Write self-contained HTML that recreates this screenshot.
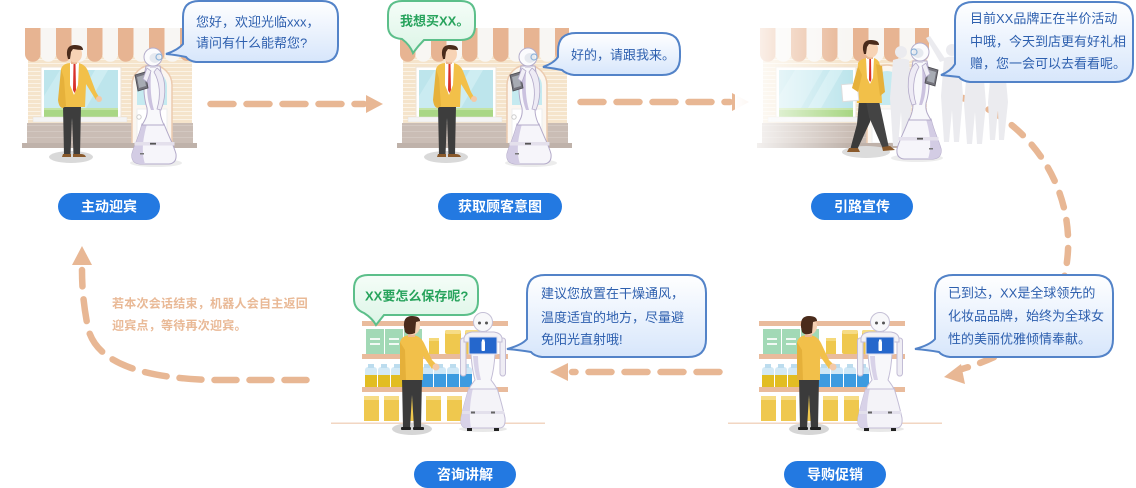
<!DOCTYPE html>
<html><head><meta charset="utf-8">
<style>
html,body{margin:0;padding:0;background:#fff;}
svg{display:block;}
text{font-family:"Liberation Sans","Noto Sans CJK SC",sans-serif;}
</style></head><body>
<svg width="1136" height="488" viewBox="0 0 1136 488" xmlns="http://www.w3.org/2000/svg">
<defs>
<pattern id="wall" width="4" height="4" patternUnits="userSpaceOnUse"><rect width="4" height="4" fill="#f5e4cb"/><rect y="3" width="4" height="1" fill="#fbf3e6"/></pattern>
<pattern id="wain" width="6" height="6" patternUnits="userSpaceOnUse"><rect width="6" height="6" fill="#cabdb5"/><rect y="5" width="6" height="1" fill="#d3c8c1"/></pattern>
<linearGradient id="bb" x1="0" y1="0" x2="0" y2="1"><stop offset="0" stop-color="#ffffff"/><stop offset="1" stop-color="#d7e6fb"/></linearGradient>
<linearGradient id="gb" x1="0" y1="0" x2="0" y2="1"><stop offset="0" stop-color="#f5fdf8"/><stop offset="1" stop-color="#dcf5e6"/></linearGradient>
<linearGradient id="fade" x1="0" y1="0" x2="1" y2="0"><stop offset="0" stop-color="#fff" stop-opacity="1"/><stop offset="0.2" stop-color="#fff" stop-opacity="0.8"/><stop offset="1" stop-color="#fff" stop-opacity="0"/></linearGradient>

<g id="store">
<rect x="28" y="52" width="164" height="73" fill="url(#wall)"/>
<rect x="41" y="67" width="80" height="52" fill="#fff" stroke="#efe3d6"/>
<rect x="44" y="70" width="74" height="45" fill="#bde5ec"/>
<path d="M60,70 L88,70 L62,115 L44,115 L44,96 Z" fill="#d0eef3" opacity="0.7"/>
<path d="M95,70 L108,70 L82,115 L69,115 Z" fill="#d6f1f5" opacity="0.7"/>
<rect x="44" y="109" width="74" height="8" fill="#a9d785"/>
<rect x="44" y="108" width="74" height="2" fill="#c3e4a6"/>
<rect x="33" y="117" width="94" height="5" fill="#f4f4f4" stroke="#e6e0da" stroke-width="0.5"/>
<rect x="27" y="123" width="166" height="21" fill="url(#wain)"/>
<path d="M132,145 V85 A20,20 0 0 1 172,85 V145 Z" fill="#fbf6f0" stroke="#eccbb0" stroke-width="1.5"/>
<path d="M137,105 V86 A15,15 0 0 1 167,86 V105 Z" fill="#c5eaf0"/>
<rect x="137" y="109" width="30" height="34" fill="#fff" stroke="#eee"/>
<circle cx="139" cy="117" r="2.2" fill="#fff" stroke="#ccc"/>
<rect x="22" y="143" width="175" height="5" fill="#bfb2aa"/>
<path d="M25,28h15.5v26a7.75,7.75 0 0 1 -15.5,0z" fill="#e7b492"/>
<path d="M40.5,28h15.5v26a7.75,7.75 0 0 1 -15.5,0z" fill="#f8f6f3"/>
<path d="M56,28h15.5v26a7.75,7.75 0 0 1 -15.5,0z" fill="#e7b492"/>
<path d="M71.5,28h15.5v26a7.75,7.75 0 0 1 -15.5,0z" fill="#f8f6f3"/>
<path d="M87,28h15.5v26a7.75,7.75 0 0 1 -15.5,0z" fill="#e7b492"/>
<path d="M102.5,28h15.5v26a7.75,7.75 0 0 1 -15.5,0z" fill="#f8f6f3"/>
<path d="M118,28h15.5v26a7.75,7.75 0 0 1 -15.5,0z" fill="#e7b492"/>
<path d="M133.5,28h15.5v26a7.75,7.75 0 0 1 -15.5,0z" fill="#f8f6f3"/>
<path d="M149,28h15.5v26a7.75,7.75 0 0 1 -15.5,0z" fill="#e7b492"/>
<path d="M164.5,28h15.5v26a7.75,7.75 0 0 1 -15.5,0z" fill="#f8f6f3"/>
<path d="M180,28h14v26a7,7 0 0 1 -14,0z" fill="#e7b492"/>
</g>

<g id="man1">
<ellipse cx="71" cy="157" rx="22" ry="6" fill="#d9d9d9"/>
<path d="M63,106 H81 L80,155 H73.5 L72,118 L70.5,155 H64 Z" fill="#3d3d3d"/>
<path d="M63,154 h8 v3 h-9 z" fill="#8a5a2c"/>
<path d="M73,154 h8 q4,0 5,3 h-13 z" fill="#8a5a2c"/>
<path d="M61,69 Q63,63 71,63 L78,63 Q85,64 88,71 L96,92 L99,97 L96,100 L86,84 L85,107 L61,107 Z" fill="#f2c049"/>
<path d="M61,69 L58,100 Q59,108 63,108 L66,106 L64,78 Z" fill="#e6b13b"/>
<path d="M70,63 L79,63 L78,85 L74,95 L70,85 Z" fill="#fff"/>
<path d="M73.5,64 L75.5,64 L76,90 L74.5,93 L73,90 Z" fill="#d8322b"/>
<circle cx="99" cy="99" r="3" fill="#f3c9a8"/>
<rect x="71" y="58" width="6" height="6" fill="#eab894"/>
<ellipse cx="75" cy="54" rx="7" ry="8.5" fill="#f7d3b5"/>
<path d="M67,55 Q66,45 75,45 Q83,45 83,50 Q78,50 73,49 L71,52 L70,59 L68,59 Z" fill="#4a2b1b"/>
</g>

<g id="rob1">
<ellipse cx="156" cy="163" rx="26" ry="4" fill="#ececec"/>
<path d="M142,124 C139,137 134,146 132,154 Q131,163 140,164 L169,164 Q177,163 176,154 C174,146 169,137 164,124 Z" fill="#f6f5fa" stroke="#b3aac9"/>
<path d="M142,124 C139,137 134,146 132,154 Q131,163 140,164 L145,164 C141,152 143,138 147,124 Z" fill="#d3cce4"/>
<rect x="134.5" y="142" width="40" height="3.5" fill="#e4e0ec"/>
<rect x="150" y="142.8" width="6" height="1.8" fill="#555"/>
<rect x="140" y="153" width="4" height="1.5" fill="#777"/>
<path d="M146,66 C143,80 143,96 147,108 C148,116 145,120 142,125 L164,125 C160,117 159,110 161,100 C163,88 162,76 160,66 Z" fill="#f8f8fb" stroke="#b3aac9"/>
<path d="M148,72 C146,88 147,100 151,110 L154,110 C151,100 150,88 151,72 Z" fill="#cbc2df"/>
<path d="M157,68 C166,74 167,95 161,110 L157,109 C161,96 160,82 154,72 Z" fill="#eeebf5" stroke="#b3aac9" stroke-width="0.8"/>
<path d="M135,75 L145,72 L148,88 L138,91 Z" fill="#74737c" stroke="#4a4a50" stroke-width="0.8"/>
<path d="M137,77 L144,75 L146,86 L139,88 Z" fill="#a7abb3"/>
<path d="M147,68 L143,79 L147,82 L151,71 Z" fill="#f0eef6" stroke="#b3aac9" stroke-width="0.8"/>
<rect x="150" y="64" width="6" height="4" fill="#dcd8e6"/>
<circle cx="153" cy="57" r="9" fill="#fbfbfd" stroke="#b5aecb"/>
<ellipse cx="155" cy="58" rx="5.5" ry="5" fill="#e6e9ef"/>
<circle cx="159" cy="57" r="3" fill="none" stroke="#8fb4d9" stroke-width="1.2"/>
</g>

<g id="shop">
<rect x="728" y="422.5" width="214" height="1.5" fill="#f2d6c2"/>
<rect x="759" y="321" width="146" height="5" fill="#e9bb9c"/>
<rect x="759" y="354" width="146" height="5" fill="#e9bb9c"/>
<rect x="759" y="387" width="146" height="5" fill="#e9bb9c"/>
<rect x="763" y="329" width="18" height="25" fill="#a2d9b6"/>
<rect x="782" y="329" width="18" height="25" fill="#a2d9b6"/>
<rect x="801" y="329" width="18" height="25" fill="#a2d9b6"/>
<g fill="#fff" opacity="0.85">
<rect x="767" y="338" width="10" height="2"/><rect x="767" y="343" width="10" height="2"/>
<rect x="786" y="338" width="10" height="2"/><rect x="786" y="343" width="10" height="2"/>
<rect x="805" y="338" width="10" height="2"/><rect x="805" y="343" width="10" height="2"/>
</g>
<rect x="826" y="340" width="10" height="14" fill="#efc84e"/><rect x="826" y="338" width="10" height="3" fill="#f5d97a"/>
<rect x="842" y="330" width="16" height="24" rx="2" fill="#efc84e"/><rect x="842" y="330" width="16" height="4" rx="2" fill="#f6dc86"/>
<rect x="862" y="330" width="16" height="24" rx="2" fill="#efc84e"/><rect x="862" y="330" width="16" height="4" rx="2" fill="#f6dc86"/>
<g>
<rect x="762" y="367" width="12" height="20" rx="3" fill="#d3e9f5"/><rect x="762" y="375" width="12" height="12" fill="#e2bd22"/><rect x="765" y="364" width="6" height="4" fill="#bcdcee"/>
<rect x="775" y="367" width="12" height="20" rx="3" fill="#d3e9f5"/><rect x="775" y="375" width="12" height="12" fill="#e2bd22"/><rect x="778" y="364" width="6" height="4" fill="#bcdcee"/>
<rect x="788" y="367" width="12" height="20" rx="3" fill="#d3e9f5"/><rect x="788" y="375" width="12" height="12" fill="#e2bd22"/><rect x="791" y="364" width="6" height="4" fill="#bcdcee"/>
<rect x="818" y="367" width="12" height="20" rx="3" fill="#cfe7f6"/><rect x="818" y="374" width="12" height="13" fill="#3d9be0"/><rect x="821" y="364" width="6" height="4" fill="#bcdcee"/>
<rect x="831" y="367" width="12" height="20" rx="3" fill="#cfe7f6"/><rect x="831" y="374" width="12" height="13" fill="#3d9be0"/><rect x="834" y="364" width="6" height="4" fill="#bcdcee"/>
<rect x="844" y="367" width="12" height="20" rx="3" fill="#cfe7f6"/><rect x="844" y="374" width="12" height="13" fill="#3d9be0"/><rect x="847" y="364" width="6" height="4" fill="#bcdcee"/>
<rect x="857" y="367" width="12" height="20" rx="3" fill="#cfe7f6"/><rect x="857" y="374" width="12" height="13" fill="#3d9be0"/><rect x="860" y="364" width="6" height="4" fill="#bcdcee"/>
</g>
<g>
<rect x="761" y="396" width="15" height="25" fill="#efc84e"/><rect x="761" y="396" width="15" height="4" fill="#f6dc86"/>
<rect x="781" y="396" width="15" height="25" fill="#efc84e"/><rect x="781" y="396" width="15" height="4" fill="#f6dc86"/>
<rect x="802" y="396" width="15" height="25" fill="#efc84e"/><rect x="802" y="396" width="15" height="4" fill="#f6dc86"/>
<rect x="823" y="396" width="15" height="25" fill="#efc84e"/><rect x="823" y="396" width="15" height="4" fill="#f6dc86"/>
<rect x="844" y="396" width="15" height="25" fill="#efc84e"/><rect x="844" y="396" width="15" height="4" fill="#f6dc86"/>
<rect x="865" y="396" width="15" height="25" fill="#efc84e"/><rect x="865" y="396" width="15" height="4" fill="#f6dc86"/>
</g>
<ellipse cx="809" cy="429" rx="20" ry="6" fill="#d6d6d6"/>
<path d="M799,378 H819 L818,428 H811 L809,395 L807,428 H800 Z" fill="#3b3b3b"/>
<rect x="798" y="427" width="10" height="3" rx="1" fill="#222"/>
<rect x="810" y="427" width="11" height="3" rx="1" fill="#222"/>
<path d="M797,342 Q799,335 808,335 Q817,335 821,343 L829,360 L833,364 L829,369 L820,356 L820,380 L797,380 Z" fill="#f2c04a"/>
<path d="M797,342 L797,380 L803,380 L802,350 Z" fill="#e5b03a"/>
<circle cx="833" cy="367" r="3.5" fill="#f3c9a8"/>
<rect x="805" y="331" width="7" height="6" fill="#eab894"/>
<ellipse cx="809" cy="326" rx="8" ry="9" fill="#f5d0b2"/>
<path d="M801,327 Q800,316 809,316 Q817,316 817,321 L813,322 L812,333 Q805,336 802,332 Z" fill="#4a2b1b"/>
<ellipse cx="880" cy="429" rx="24" ry="3" fill="#e8e8e8"/>
<path d="M866,388 Q861,404 858,418 Q857,428 864,428 L896,428 Q903,428 902,418 Q899,404 894,388 Z" fill="#f4f3f8" stroke="#c3bdd6"/>
<path d="M866,388 Q861,404 858,418 Q857,428 864,428 L868,428 Q865,410 870,388 Z" fill="#d8d2e8"/>
<rect x="859" y="411" width="42" height="3" fill="#e3e0ec"/>
<rect x="868" y="411.5" width="4" height="2" fill="#666"/><rect x="888" y="411.5" width="4" height="2" fill="#666"/>
<rect x="864" y="428" width="5" height="3" fill="#222"/><rect x="891" y="428" width="5" height="3" fill="#222"/>
<path d="M868,354 Q869,370 872,380 Q868,385 866,389 L894,389 Q892,385 888,380 Q891,370 892,354 Z" fill="#f7f7fa" stroke="#c3bdd6"/>
<path d="M870,356 Q871,370 874,380 L878,380 Q875,368 875,356 Z" fill="#d8d2e8"/>
<rect x="857.5" y="338" width="5.5" height="38" rx="2.7" fill="#efedf4" stroke="#c3bdd6"/>
<rect x="897" y="338" width="5.5" height="38" rx="2.7" fill="#efedf4" stroke="#c3bdd6"/>
<path d="M861,338 Q862,333 869,332 L891,332 Q898,333 899,338 L899,342 L861,342 Z" fill="#f3f2f7" stroke="#c3bdd6"/>
<rect x="866" y="337" width="28" height="17" fill="#2567cc" stroke="#dde" stroke-width="1"/>
<rect x="878.5" y="341" width="3.5" height="10" rx="1" fill="#fff"/>
<rect x="879" y="339.5" width="2.5" height="2" fill="#fff"/>
<rect x="877" y="329" width="6" height="4" fill="#dcd8e6"/>
<circle cx="880" cy="322" r="9.5" fill="#f8f8fa" stroke="#c5c0d6"/>
<circle cx="876.5" cy="323" r="1.5" fill="#555"/>
<circle cx="883.5" cy="323" r="1.5" fill="#555"/>
</g>
</defs>

<!-- dashed connectors -->
<g stroke="#e8b794" stroke-width="6.5" stroke-linecap="round" fill="none">
<path d="M210.5,104 H364" stroke-dasharray="23 13"/>
<path d="M580.5,102 H730" stroke-dasharray="23 13"/>
<path d="M719.5,372 H572" stroke-dasharray="23 13"/>
<path d="M306.5,380 H212 C140,378 96,362 88,328 C84,308 82,290 82,270" stroke-dasharray="22 13"/>
<path d="M963,98 C1040,125 1078,200 1066,268 C1058,320 1020,352 962,369" stroke-dasharray="15 13"/>
</g>
<g fill="#e8b794">
<path d="M366,95 L383,104 L366,113 Z"/>
<path d="M732,93 L749,102 L732,111 Z"/>
<path d="M568,363 L550,372 L568,381 Z"/>
<path d="M82,246 L92,265 L72,265 Z"/>
<path d="M944,377 L961,364 L965,384 Z"/>
</g>

<!-- scene 1 -->
<use href="#store"/>
<use href="#man1"/>
<use href="#rob1"/>
<!-- scene 2 -->
<g transform="translate(375,0)">
<use href="#store"/>
<use href="#man1"/>
<use href="#rob1"/>
</g>
<!-- scene 3 -->
<use href="#store" transform="translate(735,0)"/>
<g fill="#ebebef">
<circle cx="901" cy="52" r="6"/><path d="M893,60 Q901,57 909,60 L912,98 L908,146 L903,146 L901,112 L898,146 L893,146 L890,98 Z"/>
<circle cx="952" cy="50" r="6"/><path d="M944,58 Q952,55 960,58 L963,96 L959,142 L954,142 L952,110 L949,142 L944,142 L941,96 Z"/>
<path d="M958,62 L975,40 L979,43 L963,68 Z"/>
<path d="M940,62 L926,38 L930,36 L946,60 Z"/>
<circle cx="975" cy="60" r="6"/><path d="M967,68 Q975,65 983,68 L986,104 L982,144 L977,144 L975,112 L972,144 L967,144 L964,104 Z"/>
<circle cx="998" cy="62" r="5.5"/><path d="M991,69 Q998,66 1005,69 L1008,102 L1004,140 L999,140 L998,110 L995,140 L990,140 L988,102 Z"/>
</g>
<rect x="735" y="20" width="115" height="135" fill="url(#fade)"/>
<ellipse cx="866" cy="152" rx="24" ry="6" fill="#dcdcdc"/>
<path d="M859,101 L874,101 L870,122 L857,150 L850,150 L857,124 Z" fill="#3a3a3a"/>
<path d="M866,101 L879,101 L889,148 L883,149 L869,117 Z" fill="#444"/>
<path d="M849,148 L858,148 L860,152 L847,152 Z" fill="#8a5a2c"/>
<path d="M882,147 L890,146 L895,150 L883,151 Z" fill="#8a5a2c"/>
<path d="M858,63 Q861,58 868,58 L874,58 Q880,60 880,67 L882,103 L857,103 Z" fill="#f2c049"/>
<path d="M866,58 L874,58 L873,78 L870,84 L867,78 Z" fill="#fff"/>
<path d="M869.3,59 L871,59 L871.3,80 L870.2,82 L869,80 Z" fill="#d8322b"/>
<path d="M876,64 L882,66 L885,92 L880,96 Z" fill="#e6b13b"/>
<rect x="842" y="84" width="16" height="17" fill="#fff" stroke="#ddd" transform="rotate(-5 850 92)"/>
<path d="M858,66 L852,88 L858,92 L862,75 Z" fill="#e6b13b"/>
<rect x="867" y="53" width="6" height="6" fill="#eab894"/>
<ellipse cx="871" cy="49" rx="7" ry="8.5" fill="#f7d3b5"/>
<path d="M863,50 Q862,40 871,40 Q879,40 879,45 Q874,45 869,44 L867,47 L866,54 L864,54 Z" fill="#4a2b1b"/>
<use href="#rob1" transform="translate(1073,-5) scale(-1,1)"/>

<!-- bottom scenes -->
<use href="#shop"/>
<use href="#shop" transform="translate(-397,0)"/>

<!-- bubbles -->
<g stroke="#5383c8" stroke-width="2" fill="url(#bb)">
<path d="M199,1 H322 Q338,1 338,17 V46 Q338,62 322,62 H196 Q189,61 186,57 Q177,55 166,54 Q178,50 183,44 V17 Q183,1 199,1 Z"/>
<path d="M576,33 H662 Q680,33 680,51 V57 Q680,75 662,75 H574 Q566,74 562,70 Q552,68 543,67 Q554,63 558,57 V51 Q558,33 576,33 Z"/>
<path d="M973,2 H1115 Q1133,2 1133,20 V64 Q1133,82 1115,82 H970 Q962,81 959,77 Q950,76 941,75 Q951,71 955,64 V20 Q955,2 973,2 Z"/>
<path d="M953,275 H1095 Q1113,275 1113,293 V339 Q1113,357 1095,357 H950 Q942,356 939,352 Q928,350 915,349 Q930,345 935,339 V293 Q935,275 953,275 Z"/>
<path d="M545,275 H688 Q706,275 706,293 V339 Q706,357 688,357 H542 Q534,356 531,352 Q520,350 507,349 Q522,345 527,339 V293 Q527,275 545,275 Z"/>
</g>
<g stroke="#5cbf8a" stroke-width="2" fill="url(#gb)">
<path d="M402,1 H461 Q475,1 475,15 V26 Q475,40 461,40 H424 Q418,46 413,53 Q410,45 402,39 Q388,38 388,26 V15 Q388,1 402,1 Z"/>
<path d="M368,275 H464 Q478,275 478,289 V301 Q478,315 464,315 H384 Q380,320 376,325 Q372,318 364,313 Q354,309 354,299 V289 Q354,275 368,275 Z"/>
</g>

<g fill="#2d5fae" font-size="13">
<text x="196" y="26.5">您好，欢迎光临xxx，</text>
<text x="196" y="47.5">请问有什么能帮您?</text>
<text x="571" y="59.5">好的，请跟我来。</text>
<text x="970" y="23">目前XX品牌正在半价活动</text>
<text x="970" y="46">中哦，今天到店更有好礼相</text>
<text x="970" y="68">赠，您一会可以去看看呢。</text>
<text x="948" y="297.5">已到达，XX是全球领先的</text>
<text x="948" y="320.5">化妆品品牌，始终为全球女</text>
<text x="948" y="343.5">性的美丽优雅倾情奉献。</text>
<text x="541" y="298">建议您放置在干燥通风，</text>
<text x="541" y="322">温度适宜的地方，尽量避</text>
<text x="541" y="344">免阳光直射哦!</text>
</g>
<g fill="#27a35c" font-size="13" font-weight="bold">
<text x="400" y="25.5">我想买XX。</text>
<text x="365" y="300.5">XX要怎么保存呢?</text>
</g>

<g fill="#e9b996" font-size="12" font-weight="bold" letter-spacing="0.25">
<text x="112" y="307.5">若本次会话结束，机器人会自主返回</text>
<text x="112" y="329.5">迎宾点，等待再次迎宾。</text>
</g>

<!-- pills -->
<g fill="#2379e1">
<rect x="58" y="193" width="102" height="27" rx="13.5"/>
<rect x="438" y="193" width="124" height="27" rx="13.5"/>
<rect x="811" y="193" width="102" height="27" rx="13.5"/>
<rect x="784" y="461" width="102" height="27" rx="13.5"/>
<rect x="414" y="461" width="102" height="27" rx="13.5"/>
</g>
<g fill="#fff" font-size="14" font-weight="bold" text-anchor="middle">
<text x="109" y="211.5">主动迎宾</text>
<text x="500" y="211.5">获取顾客意图</text>
<text x="862" y="211.5">引路宣传</text>
<text x="835" y="479.5">导购促销</text>
<text x="465" y="479.5">咨询讲解</text>
</g>
</svg>
</body></html>
